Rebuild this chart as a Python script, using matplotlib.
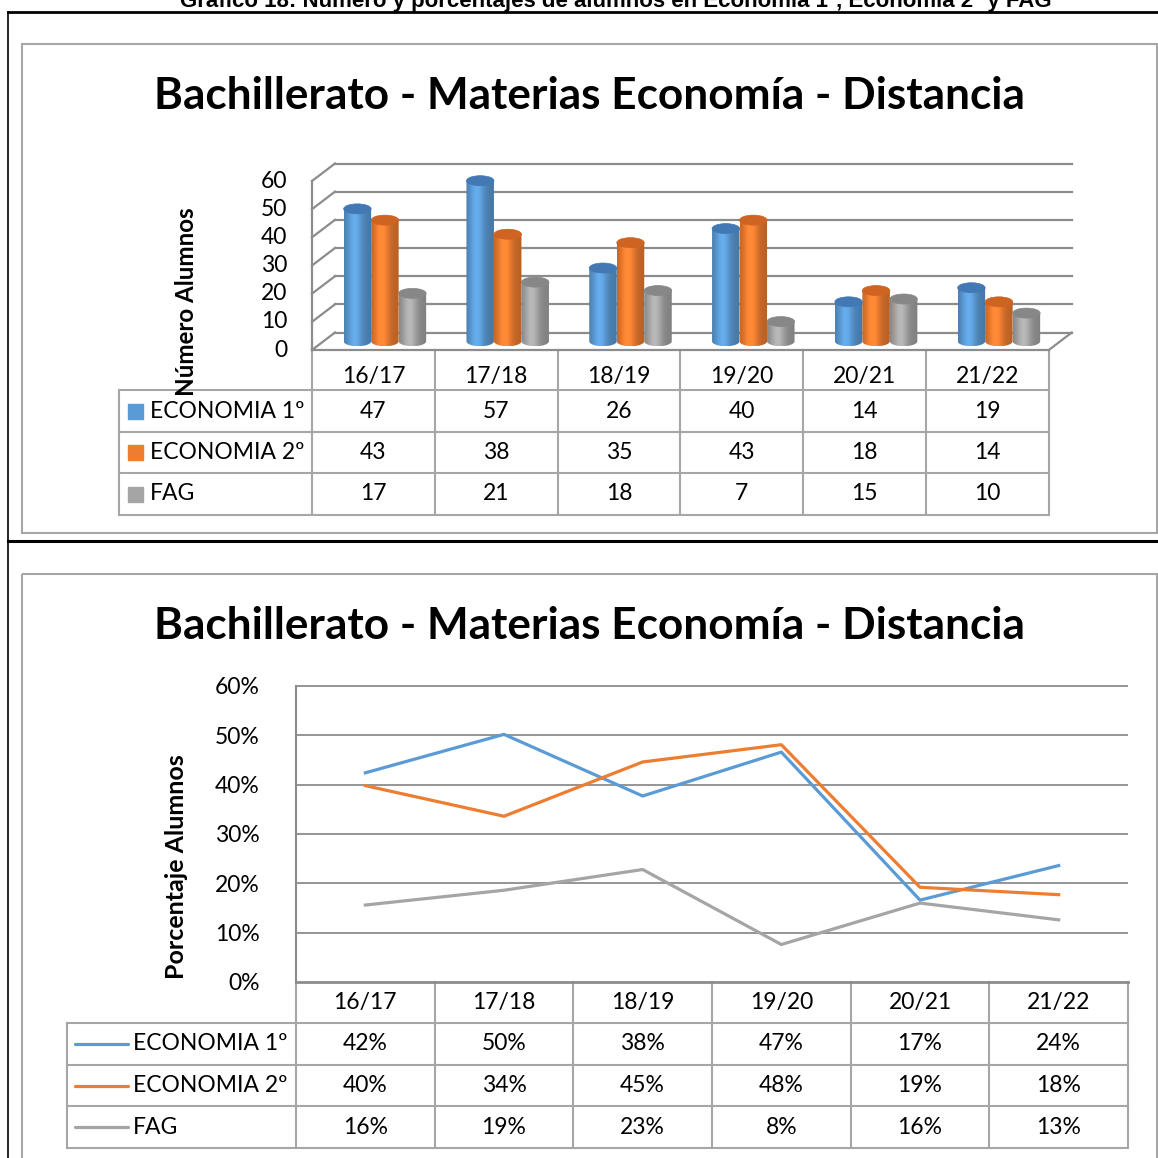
import numpy as np
import matplotlib
matplotlib.use('Agg')
import matplotlib.pyplot as plt
from matplotlib.patches import Ellipse, PathPatch, Rectangle
from matplotlib.path import Path
from matplotlib.colors import to_rgb

# datos
cursos = ['16/17', '17/18', '18/19', '19/20', '20/21', '21/22']
series = ['ECONOMIA 1º', 'ECONOMIA 2º', 'FAG']
alumnos_eco1 = [47, 57, 26, 40, 14, 19]
alumnos_eco2 = [43, 38, 35, 43, 18, 14]
alumnos_fag = [17, 21, 18, 7, 15, 10]
pct_eco1 = [42.4, 50.2, 37.7, 46.6, 16.6, 23.6]
pct_eco2 = [39.8, 33.6, 44.6, 48.1, 19.2, 17.7]
pct_fag = [15.6, 18.6, 22.8, 7.6, 16.0, 12.6]
colores = ['#5b9bd5', '#ed7d31', '#a5a5a5']
tapas = ['#4279b5', '#cf6422', '#878787']

plt.rcParams['font.family'] = ['Lato', 'DejaVu Sans']
W, H = 1158, 1158
GRID = '#8c8c8c'
TAB = '#a6a6a6'
FS = 16.5

fig = plt.figure(figsize=(W / 100, H / 100), dpi=100)


def px_axes(x0, y0, x1, y1):
    return fig.add_axes([x0 / W, 1 - y1 / H, (x1 - x0) / W, (y1 - y0) / H])


bg = fig.add_axes([0, 0, 1, 1], zorder=0)
bg.set_xlim(0, W)
bg.set_ylim(H, 0)
bg.axis('off')

# marco exterior y pie (cortado arriba, como en el original)
bg.text(616, 7, 'Gráfico 18: Número y porcentajes de alumnos en Economía 1º, Economía 2º y FAG',
        ha='center', va='baseline', fontsize=16, fontweight='bold', family='Liberation Sans')
bg.plot([8, W], [12, 12], color='black', lw=2)
bg.plot([8, 8], [12, H], color='black', lw=1.2)
bg.plot([8, W], [541, 541], color='black', lw=2.2)
bg.add_patch(Rectangle((22, 44), 1135, 489, fill=False, ec=TAB, lw=1.5))
bg.add_patch(Rectangle((22, 574), 1135, 620, fill=False, ec=TAB, lw=1.5))

titulo = 'Bachillerato - Materias Economía - Distancia'
bg.text(589, 96, titulo, ha='center', va='center', fontsize=31.8, fontweight='bold')
bg.text(589, 626, titulo, ha='center', va='center', fontsize=31.8, fontweight='bold')

# ---------- grafico 1: cilindros 3D ----------
SX = 122.8            # px por curso
SY = 169 / 60         # px por alumno
DX = 23 / SX          # profundidad
DY = 17.5 / SY
ax1 = px_axes(290, 140, 1095, 362)
ax1.axis('off')

yt = list(range(0, 61, 10))
ax1.plot([0, 0], [0, 60], color=GRID, lw=1.6)
for v in yt:
    ax1.plot([0, DX], [v, v + DY], color=GRID, lw=1.6)
    ax1.plot([DX, 6 + DX], [v + DY, v + DY], color=GRID, lw=1.6)
    ax1.text(-0.2, v, str(v), ha='right', va='center', fontsize=FS)
ax1.plot([0, 6], [0, 0], color=GRID, lw=1.6)
ax1.plot([6, 6 + DX], [0, DY], color=GRID, lw=1.6)


def gradiente(c, n=64):
    t = np.linspace(0, 1, n)
    f = 0.78 + 0.34 * np.exp(-((t - 0.38) / 0.28) ** 2)
    rgb = np.clip(np.array(to_rgb(c))[None, :] * f[:, None], 0, 1)
    return rgb[None, :, :]


w = 27.5 / SX
eh = 5 / SY
base = DY / 2
valores = [alumnos_eco1, alumnos_eco2, alumnos_fag]
for i in range(len(cursos)):
    for j, vals in enumerate(valores):
        xc = i + 0.5 + DX / 2 + (j - 1) * w
        x0 = xc - w / 2
        top = base + vals[i]
        t = np.linspace(np.pi, 2 * np.pi, 30)
        pts = [(x0, top), (x0, base)]
        pts += list(zip(xc + w / 2 * np.cos(t), base + eh * np.sin(t)))
        pts += [(x0 + w, top), (x0, top)]
        patch = PathPatch(Path(pts), transform=ax1.transData, fc='none', ec='none')
        ax1.add_patch(patch)
        im = ax1.imshow(gradiente(colores[j]), extent=[x0, x0 + w, base - eh, top],
                        aspect='auto', zorder=2, interpolation='bilinear')
        im.set_clip_path(patch)
        ax1.add_patch(Ellipse((xc, top), w, 2 * eh, fc=tapas[j], ec=tapas[j], lw=0.5, zorder=3))

ax1.set_xlim((290 - 312) / SX, (1095 - 312) / SX)
ax1.set_ylim((350 - 362) / SY, (350 - 140) / SY)

bg.text(186, 302, 'Número Alumnos', rotation=90, ha='center', va='center',
        fontsize=17.4, fontweight='bold', zorder=5)

# tabla 1
cols1 = [312 + k * SX for k in range(7)]
rows1 = [350, 390, 432, 473, 515]
for x in cols1:
    bg.plot([x, x], [350, 515], color=TAB, lw=1.5)
bg.plot([119, 119], [390, 515], color=TAB, lw=1.5)
for y in rows1[1:]:
    bg.plot([119, cols1[-1]], [y, y], color=TAB, lw=1.5)
for k, c in enumerate(cursos):
    bg.text((cols1[k] + cols1[k + 1]) / 2, 376, c, ha='center', va='center', fontsize=FS)
for r, (nombre, vals) in enumerate(zip(series, valores)):
    yc = (rows1[r + 1] + rows1[r + 2]) / 2
    bg.add_patch(Rectangle((128, yc - 7.5), 15, 15, color=colores[r]))
    bg.text(150, yc, nombre, ha='left', va='center', fontsize=FS)
    for k, v in enumerate(vals):
        bg.text((cols1[k] + cols1[k + 1]) / 2, yc, str(v), ha='center', va='center', fontsize=FS)

# ---------- grafico 2: lineas ----------
ax2 = px_axes(296, 686, 1128, 982)
pcts = [pct_eco1, pct_eco2, pct_fag]
xs = np.arange(len(cursos)) + 0.5
ax2.hlines(yt[1:], 0, 6, color=GRID, lw=1.3, clip_on=False)
for j, vals in enumerate(pcts):
    ax2.plot(xs, vals, color=colores[j], lw=2.3, clip_on=False)
ax2.set_xlim(0, 6)
ax2.set_ylim(0, 60)
ax2.set_yticks(yt)
ax2.set_yticklabels([f'{v}%' for v in yt], fontsize=FS)
ax2.set_xticks([])
ax2.tick_params(axis='y', length=0, pad=26)
for s in ['top', 'right', 'bottom']:
    ax2.spines[s].set_visible(False)
ax2.spines['left'].set_color(GRID)
ax2.spines['left'].set_linewidth(1.5)
ax2.patch.set_alpha(0)

bg.text(176, 867, 'Porcentaje Alumnos', rotation=90, ha='center', va='center',
        fontsize=18, fontweight='bold')

# tabla 2
SX2 = (1128 - 296) / 6
cols2 = [296 + k * SX2 for k in range(7)]
rows2 = [982, 1023, 1065, 1106, 1148]
for x in cols2:
    bg.plot([x, x], [982, 1148], color=TAB, lw=1.5)
bg.plot([67, 67], [1023, 1148], color=TAB, lw=1.5)
bg.plot([296, 1128], [982, 982], color=GRID, lw=2)
for y in rows2[1:]:
    bg.plot([67, 1128], [y, y], color=TAB, lw=1.5)
for k, c in enumerate(cursos):
    bg.text((cols2[k] + cols2[k + 1]) / 2, 1003, c, ha='center', va='center', fontsize=FS)
for r, (nombre, vals) in enumerate(zip(series, pcts)):
    yc = (rows2[r + 1] + rows2[r + 2]) / 2
    bg.plot([75, 128], [yc, yc], color=colores[r], lw=2.3, solid_capstyle='round')
    bg.text(133, yc, nombre, ha='left', va='center', fontsize=FS)
    for k, v in enumerate(vals):
        bg.text((cols2[k] + cols2[k + 1]) / 2, yc, f'{round(v)}%', ha='center', va='center', fontsize=FS)

fig.savefig('out.png', dpi=100, facecolor='white')
